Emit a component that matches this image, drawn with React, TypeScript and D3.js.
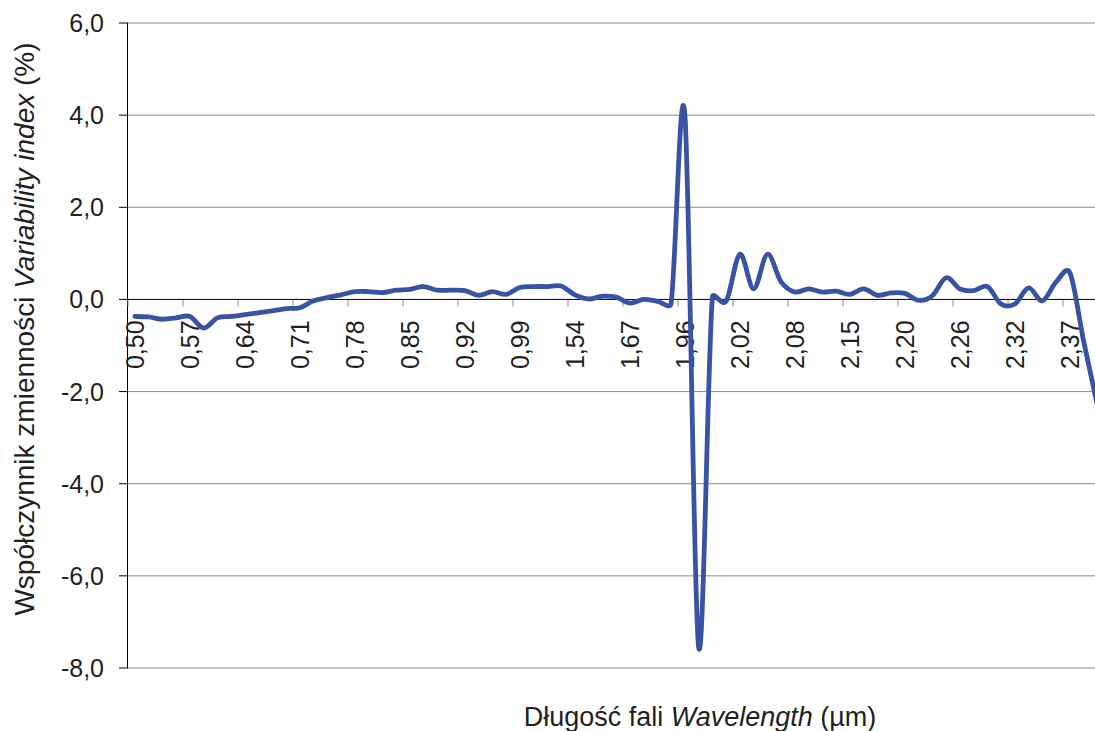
import React from "react";
import * as d3 from "d3";

// Tick labels shown every 4th category on the wavelength axis
const tickLabels = [
  "0,50", "0,57", "0,64", "0,71", "0,78", "0,85", "0,92", "0,99", "1,54",
  "1,67", "1,96", "2,02", "2,08", "2,15", "2,20", "2,26", "2,32", "2,37",
];
const labelEvery = 4;

// Variability index (%) per category
const variability = [
  -0.37, -0.38, -0.43, -0.40, -0.37, -0.62, -0.40, -0.37, -0.33, -0.29,
  -0.25, -0.20, -0.18, -0.03, 0.04, 0.10, 0.17, 0.17, 0.15, 0.20,
  0.22, 0.28, 0.20, 0.20, 0.19, 0.09, 0.17, 0.11, 0.26, 0.28,
  0.28, 0.29, 0.10, 0.01, 0.07, 0.05, -0.08, 0.00, -0.04, -0.08,
  4.00, -7.55, 0.05, -0.04, 0.98, 0.23, 0.98, 0.38, 0.16, 0.23,
  0.16, 0.18, 0.11, 0.23, 0.09, 0.14, 0.13, -0.02, 0.08, 0.47,
  0.23, 0.19, 0.28, -0.10, -0.10, 0.25, -0.03, 0.38, 0.58, -0.90,
  -2.30,
];

const yTicks = [6, 4, 2, 0, -2, -4, -6, -8];

const W = 1095;
const H = 731;
const left = 128;
const top = 23;
const bottom = 668;
const catWidth = 13.75;

const font = "'Liberation Sans', Arial, Helvetica, sans-serif";

// Spreadsheet-style smoothed line: Bezier segments whose control arms are
// 1/6 of the neighbour chord, clamped to half the segment length.
function curveSpreadsheetSmooth(context: any) {
  let pts: [number, number][] = [];
  return {
    areaStart() {},
    areaEnd() {},
    lineStart() {
      pts = [];
    },
    point(x: number, y: number) {
      pts.push([+x, +y]);
    },
    lineEnd() {
      const n = pts.length;
      if (!n) return;
      context.moveTo(pts[0][0], pts[0][1]);
      if (n === 1) return;
      const dist = (a: number[], b: number[]) => Math.hypot(b[0] - a[0], b[1] - a[1]);
      for (let i = 0; i < n - 1; i++) {
        const p0 = pts[Math.max(0, i - 1)];
        const p1 = pts[i];
        const p2 = pts[i + 1];
        const p3 = pts[Math.min(n - 1, i + 2)];
        const d12 = dist(p1, p2);
        const d02 = dist(p0, p2);
        const d13 = dist(p1, p3);
        const f1 = d02 / 6 < d12 / 2 ? 1 / 6 : d02 > 0 ? d12 / (2 * d02) : 0;
        const f2 = d13 / 6 < d12 / 2 ? 1 / 6 : d13 > 0 ? d12 / (2 * d13) : 0;
        const b1x = p1[0] + f1 * (p2[0] - p0[0]);
        const b1y = p1[1] + f1 * (p2[1] - p0[1]);
        const b2x = p2[0] - f2 * (p3[0] - p1[0]);
        const b2y = p2[1] - f2 * (p3[1] - p1[1]);
        context.bezierCurveTo(b1x, b1y, b2x, b2y, p2[0], p2[1]);
      }
    },
  };
}

export default function App() {
  const n = variability.length;
  const x = d3
    .scaleLinear()
    .domain([-0.5, n - 0.5])
    .range([left, left + n * catWidth]);
  const y = d3.scaleLinear().domain([-8, 6]).range([bottom, top]);

  const line = d3
    .line<number>()
    .x((_, i) => x(i))
    .y((d) => y(d))
    .curve(curveSpreadsheetSmooth as any);

  const fmt = (v: number) => d3.format(".1f")(v).replace(".", ",").replace("−", "-");
  const labelIdx = tickLabels.map((_, k) => k * labelEvery);
  const tickIdx = d3.range(0, n + 1, labelEvery);

  return (
    <div style={{ position: "absolute", left: 0, top: 0 }}>
      <svg width={W} height={H} style={{ display: "block", background: "#fff" }}>
        <defs>
          <clipPath id="plotclip">
            <rect x={left} y={0} width={W - left} height={H} />
          </clipPath>
        </defs>
        <rect x={0} y={0} width={W} height={H} fill="#fff" />
        {/* gridlines */}
        {yTicks.filter((t) => t !== 0).map((t) => (
          <line key={t} x1={left} x2={W} y1={y(t)} y2={y(t)} stroke="#8a8a8a" strokeWidth={1} />
        ))}
        {/* y axis */}
        <line x1={left - 0.5} x2={left - 0.5} y1={top} y2={bottom} stroke="#000" strokeWidth={1} />
        {yTicks.map((t) => (
          <g key={"yt" + t}>
            <line x1={left - 9} x2={left} y1={y(t)} y2={y(t)} stroke="#000" strokeWidth={1} />
            <text
              x={104}
              y={y(t)}
              dy="0.36em"
              textAnchor="end"
              fontFamily={font}
              fontSize={25}
              fill="#231f20"
            >
              {fmt(t)}
            </text>
          </g>
        ))}
        {/* category axis at zero */}
        {tickIdx.map((i) => (
          <line key={"xt" + i} x1={x(i - 0.5)} x2={x(i - 0.5)} y1={y(0)} y2={y(0) + 7} stroke="#8a8a8a" strokeWidth={1} />
        ))}
        <line x1={left} x2={W} y1={y(0)} y2={y(0)} stroke="#000" strokeWidth={1} />
        {labelIdx.map((i, k) => (
          <text
            key={"xl" + k}
            transform={`translate(${x(i)},${y(0) + 21}) rotate(-90)`}
            dy="0.36em"
            textAnchor="end"
            fontFamily={font}
            fontSize={25}
            fill="#231f20"
          >
            {tickLabels[k]}
          </text>
        ))}
        {/* data line */}
        <g clipPath="url(#plotclip)">
          <path d={line(variability) || ""} fill="none" stroke="#3953a4" strokeWidth={4.8} strokeLinejoin="round" strokeLinecap="round" />
        </g>
        {/* axis titles */}
        <text
          transform={`translate(34,329) rotate(-90)`}
          textAnchor="middle"
          fontFamily={font}
          fontSize={28}
          fill="#231f20"
        >
          Współczynnik zmienności <tspan fontStyle="italic">Variability index</tspan> (%)
        </text>
        <text x={700} y={726} textAnchor="middle" fontFamily={font} fontSize={27} fill="#231f20">
          Długość fali <tspan fontStyle="italic">Wavelength</tspan> (µm)
        </text>
      </svg>
    </div>
  );
}
